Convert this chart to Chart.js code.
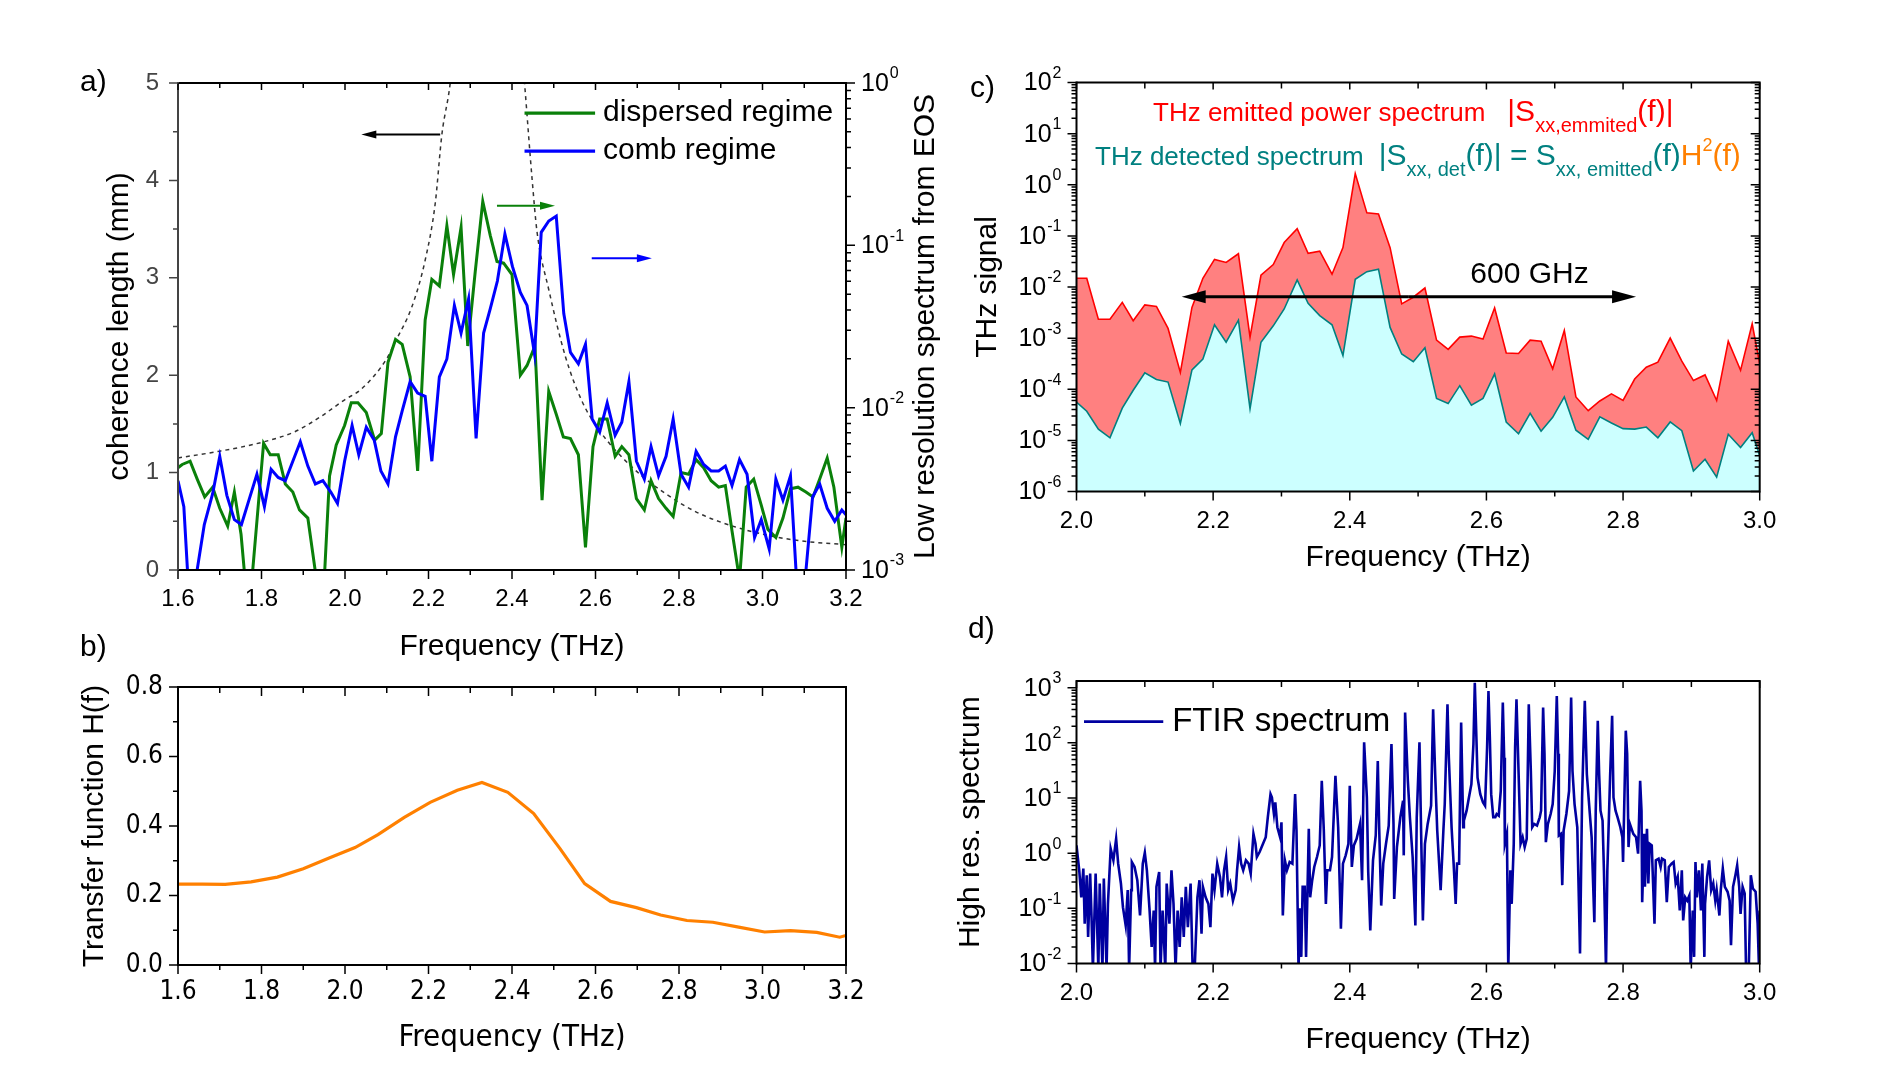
<!DOCTYPE html>
<html>
<head>
<meta charset="utf-8">
<title>THz spectra</title>
<script src="https://cdn.jsdelivr.net/npm/chart.js@4.4.0/dist/chart.umd.min.js"></script>
<style>
  body { margin: 0; background: #fff; }
  #wrap { position: relative; width: 1903px; height: 1065px; }
  canvas { position: absolute; left: 0; top: 0; }
</style>
</head>
<body>
<div id="wrap">
  <canvas id="panelA" width="1903" height="1065"></canvas>
  <canvas id="panelB" width="1903" height="1065"></canvas>
  <canvas id="panelC" width="1903" height="1065"></canvas>
  <canvas id="panelD" width="1903" height="1065"></canvas>
</div>
<script>
// ---- a) low resolution EOS spectra, right log axis (stored as log10 of value)
const dispFreq = [1.600,1.610,1.629,1.646,1.664,1.683,1.700,1.719,1.735,1.751,
  1.769,1.805,1.821,1.840,1.857,1.875,1.891,1.911,1.935,1.948,
  1.963,1.979,1.999,2.015,2.031,2.051,2.071,2.087,2.103,2.121,
  2.137,2.156,2.174,2.192,2.208,2.226,2.244,2.260,2.278,2.294,
  2.312,2.330,2.348,2.364,2.380,2.400,2.420,2.436,2.455,2.472,
  2.488,2.506,2.523,2.540,2.559,2.576,2.594,2.610,2.628,2.647,
  2.663,2.680,2.698,2.717,2.733,2.751,2.769,2.786,2.805,2.823,
  2.841,2.859,2.877,2.895,2.911,2.927,2.945,2.961,2.979,2.997,
  3.013,3.032,3.049,3.067,3.085,3.104,3.121,3.137,3.155,3.171,
  3.190,3.200];
const dispLog = [-2.37,-2.35,-2.33,-2.44,-2.55,-2.49,-2.62,-2.73,-2.52,-2.78,
  -3.30,-2.22,-2.29,-2.29,-2.47,-2.52,-2.63,-2.68,-3.12,-3.18,
  -2.42,-2.23,-2.11,-1.97,-1.97,-2.03,-2.20,-2.16,-1.72,-1.58,
  -1.61,-1.81,-2.39,-1.46,-1.21,-1.25,-0.88,-1.18,-0.89,-1.62,
  -1.16,-0.73,-0.94,-1.10,-1.11,-1.18,-1.80,-1.74,-1.62,-2.57,
  -1.90,-2.04,-2.18,-2.19,-2.29,-2.86,-2.24,-2.07,-2.07,-2.30,
  -2.24,-2.29,-2.56,-2.63,-2.45,-2.56,-2.62,-2.67,-2.40,-2.41,
  -2.32,-2.37,-2.45,-2.49,-2.48,-2.76,-3.06,-2.49,-2.44,-2.60,
  -2.75,-2.80,-2.68,-2.50,-2.49,-2.52,-2.55,-2.44,-2.31,-2.49,
  -2.86,-2.68];
const combFreq = [1.600,1.614,1.626,1.644,1.663,1.683,1.700,1.717,1.735,1.752,
  1.771,1.789,1.807,1.823,1.840,1.857,1.875,1.893,1.911,1.929,
  1.947,1.966,1.982,1.999,2.017,2.033,2.051,2.070,2.086,2.103,
  2.121,2.137,2.156,2.174,2.192,2.208,2.226,2.244,2.262,2.278,
  2.296,2.314,2.332,2.348,2.365,2.383,2.401,2.420,2.436,2.454,
  2.470,2.488,2.506,2.524,2.540,2.559,2.576,2.592,2.610,2.628,
  2.647,2.663,2.680,2.698,2.717,2.733,2.751,2.769,2.786,2.805,
  2.823,2.841,2.859,2.877,2.895,2.911,2.927,2.945,2.963,2.981,
  2.997,3.016,3.032,3.049,3.067,3.085,3.101,3.120,3.137,3.155,
  3.173,3.190,3.200];
const combLog = [-2.45,-2.61,-3.15,-3.03,-2.72,-2.53,-2.30,-2.54,-2.69,-2.72,
  -2.56,-2.41,-2.61,-2.38,-2.43,-2.45,-2.33,-2.21,-2.36,-2.47,
  -2.45,-2.52,-2.59,-2.33,-2.11,-2.29,-2.12,-2.20,-2.39,-2.47,
  -2.18,-2.02,-1.84,-1.91,-1.93,-2.33,-1.81,-1.70,-1.37,-1.54,
  -1.33,-2.19,-1.54,-1.39,-1.22,-0.93,-1.13,-1.29,-1.37,-1.67,
  -0.92,-0.85,-0.82,-1.42,-1.66,-1.73,-1.61,-2.07,-2.15,-1.97,
  -2.17,-2.09,-1.84,-2.33,-2.44,-2.24,-2.42,-2.30,-2.07,-2.41,
  -2.49,-2.27,-2.35,-2.39,-2.39,-2.36,-2.48,-2.32,-2.41,-2.80,
  -2.69,-2.87,-2.44,-2.57,-2.42,-3.21,-3.09,-2.55,-2.47,-2.62,
  -2.70,-2.63,-2.66];
// ---- a) coherence length (mm), the two branches either side of the pole
const cohFreqLow = [1.60,1.70,1.80,1.88,1.94,2.00,2.04,2.10,2.12,2.16,2.192,2.216,2.232,2.252,2.265];
const cohLow = [1.15,1.22,1.31,1.42,1.57,1.75,1.86,2.17,2.34,2.70,3.18,3.76,4.47,5.0,5.6];
const cohFreqHigh = [2.418,2.43,2.448,2.46,2.488,2.528,2.568,2.608,2.689,2.769,2.849,2.929,3.009,3.089,3.20];
const cohHigh = [5.6,5.0,4.02,3.47,2.88,2.19,1.73,1.44,1.05,0.78,0.58,0.45,0.36,0.30,0.26];

// ---- b) transfer function H(f)
const hFreq = [1.600,1.658,1.713,1.775,1.838,1.900,1.962,2.024,2.079,2.142,2.204,2.269,2.328,2.390,
  2.452,2.515,2.574,2.636,2.698,2.756,2.819,2.881,2.943,3.005,3.067,3.130,3.185,3.200];
const hVals = [0.233,0.233,0.232,0.239,0.253,0.277,0.308,0.338,0.375,0.425,0.468,0.503,0.525,0.497,
  0.436,0.335,0.234,0.183,0.165,0.144,0.128,0.123,0.109,0.095,0.099,0.094,0.080,0.085];

// ---- c) emitted and detected spectra (log10)
const specFreq = [2.000,2.015,2.032,2.049,2.067,2.083,2.100,2.117,2.134,2.152,
  2.169,2.185,2.202,2.219,2.237,2.254,2.270,2.288,2.304,2.323,
  2.339,2.356,2.374,2.390,2.408,2.425,2.442,2.459,2.476,2.493,
  2.510,2.527,2.544,2.561,2.578,2.595,2.612,2.629,2.647,2.664,
  2.680,2.697,2.714,2.731,2.749,2.766,2.783,2.800,2.817,2.834,
  2.851,2.869,2.886,2.903,2.920,2.937,2.954,2.972,2.989,3.000];
const emittedLog = [-1.83,-1.83,-2.63,-2.63,-2.30,-2.66,-2.35,-2.38,-2.81,-3.67,
  -2.40,-1.83,-1.46,-1.52,-1.35,-2.98,-1.77,-1.56,-1.13,-0.86,
  -1.34,-1.30,-1.75,-1.23,0.22,-0.55,-0.57,-1.23,-2.33,-2.20,
  -2.02,-3.04,-3.22,-2.98,-2.96,-3.02,-2.41,-3.29,-3.30,-3.04,
  -3.06,-3.60,-2.85,-4.15,-4.42,-4.23,-4.09,-4.22,-3.80,-3.57,
  -3.47,-3.00,-3.45,-3.83,-3.72,-4.22,-3.06,-3.63,-2.72,-3.50];
const detectedLog = [-4.25,-4.43,-4.78,-4.95,-4.37,-4.02,-3.68,-3.81,-3.86,-4.67,
  -3.62,-3.41,-2.74,-3.08,-2.65,-4.38,-3.08,-2.76,-2.43,-1.86,
  -2.32,-2.56,-2.74,-3.34,-1.85,-1.70,-1.65,-2.79,-3.31,-3.46,
  -3.19,-4.18,-4.28,-3.93,-4.31,-4.18,-3.70,-4.64,-4.87,-4.47,
  -4.82,-4.55,-4.15,-4.80,-4.98,-4.54,-4.66,-4.77,-4.78,-4.74,
  -4.95,-4.64,-4.81,-5.60,-5.37,-5.72,-4.88,-5.14,-4.85,-5.30];

// ---- d) high resolution FTIR spectrum (log10)
const ftirFreq = [2.000,2.004,2.007,2.010,2.012,2.015,2.017,2.020,2.022,2.024,
  2.028,2.032,2.034,2.038,2.040,2.044,2.046,2.050,2.054,2.058,
  2.061,2.065,2.068,2.072,2.075,2.077,2.080,2.081,2.085,2.089,
  2.093,2.097,2.100,2.103,2.107,2.110,2.113,2.115,2.117,2.121,
  2.123,2.126,2.130,2.132,2.136,2.139,2.142,2.145,2.148,2.151,
  2.154,2.157,2.160,2.163,2.167,2.170,2.173,2.177,2.180,2.183,
  2.185,2.189,2.193,2.196,2.199,2.202,2.206,2.210,2.213,2.216,
  2.219,2.222,2.225,2.229,2.233,2.235,2.238,2.241,2.244,2.248,
  2.252,2.255,2.259,2.262,2.264,2.268,2.273,2.277,2.280,2.284,
  2.286,2.289,2.291,2.294,2.298,2.300,2.302,2.305,2.308,2.312,
  2.316,2.320,2.322,2.325,2.327,2.329,2.331,2.334,2.336,2.340,
  2.342,2.345,2.348,2.352,2.356,2.359,2.362,2.365,2.367,2.371,
  2.374,2.379,2.383,2.387,2.390,2.394,2.398,2.400,2.403,2.406,
  2.410,2.415,2.418,2.421,2.425,2.427,2.430,2.434,2.438,2.441,
  2.443,2.446,2.449,2.453,2.457,2.461,2.464,2.465,2.469,2.474,
  2.478,2.479,2.481,2.485,2.488,2.492,2.496,2.498,2.502,2.505,
  2.507,2.510,2.514,2.519,2.522,2.525,2.528,2.533,2.537,2.539,
  2.543,2.545,2.549,2.552,2.555,2.557,2.560,2.563,2.566,2.567,
  2.571,2.574,2.578,2.581,2.583,2.587,2.591,2.595,2.598,2.601,
  2.603,2.605,2.607,2.610,2.613,2.615,2.618,2.621,2.624,2.626,
  2.627,2.630,2.632,2.635,2.637,2.640,2.642,2.644,2.647,2.650,
  2.653,2.656,2.659,2.662,2.665,2.667,2.670,2.674,2.678,2.680,
  2.683,2.685,2.687,2.690,2.694,2.697,2.700,2.703,2.705,2.706,
  2.709,2.711,2.713,2.717,2.721,2.724,2.726,2.729,2.733,2.737,
  2.740,2.744,2.747,2.751,2.754,2.758,2.760,2.763,2.765,2.767,
  2.770,2.772,2.775,2.777,2.781,2.784,2.786,2.789,2.792,2.796,
  2.799,2.800,2.804,2.806,2.808,2.810,2.815,2.819,2.822,2.825,
  2.827,2.828,2.831,2.832,2.835,2.837,2.839,2.842,2.846,2.848,
  2.852,2.855,2.857,2.861,2.864,2.867,2.871,2.874,2.877,2.880,
  2.883,2.886,2.888,2.891,2.894,2.897,2.899,2.902,2.904,2.906,
  2.908,2.911,2.914,2.916,2.919,2.920,2.923,2.926,2.929,2.932,
  2.935,2.937,2.941,2.943,2.946,2.949,2.953,2.956,2.958,2.961,
  2.964,2.967,2.970,2.972,2.975,2.978,2.980,2.984,2.987,2.990,
  2.994,2.997,2.999,3.000];
const ftirLog = [0.14,-0.31,-0.80,-0.28,-1.28,-0.40,-1.52,-0.37,-1.16,-2.1,
  -0.37,-2.1,-0.55,-2.1,-0.46,-2.1,-0.92,0.08,-0.13,0.26,
  -0.19,-0.55,-0.98,-1.31,-0.67,-2.1,-0.67,-0.16,-0.25,-0.49,
  -1.13,-0.19,0.01,-0.31,-1.04,-1.70,-1.04,-2.1,-0.61,-0.34,
  -2.1,-1.04,-2.1,-0.55,-1.28,-0.31,-0.92,-2.1,-1.04,-1.70,
  -0.80,-1.52,-0.61,-1.34,-0.55,-2.1,-2.1,-0.80,-0.49,-1.46,
  -0.61,-0.80,-0.92,-1.34,-0.37,-0.67,-0.19,-0.43,-0.80,-0.31,
  -0.07,-0.67,-0.55,-0.86,-0.67,-0.31,0.11,-0.19,-0.31,-0.13,
  -0.19,-0.37,0.35,0.17,-0.07,0.02,0.17,0.29,0.65,1.07,
  1.01,0.71,0.92,0.47,0.29,0.56,-1.13,-0.13,-0.31,-0.16,
  -0.19,1.07,0.41,-2.1,-1.0,-1.88,-0.61,-0.61,-1.88,0.44,
  -0.80,-0.49,-0.25,-0.07,0.14,1.31,0.41,-0.92,-0.31,-0.31,
  -0.07,1.40,0.47,-1.37,-0.19,-0.04,0.17,1.22,-0.25,0.14,
  0.26,0.53,-0.49,2.01,1.01,-0.34,-1.40,-0.13,0.32,1.67,
  0.47,-0.95,-0.19,0.17,0.50,1.98,0.53,-0.83,0.11,0.65,
  0.95,-0.04,2.55,1.31,0.65,-0.07,-1.31,0.65,2.01,-0.01,
  -1.22,0.17,0.53,0.86,2.61,1.43,0.41,-0.67,0.41,0.89,
  2.70,1.73,0.47,-0.19,-0.92,-0.19,-0.19,2.37,0.47,0.59,
  0.77,0.98,1.25,1.98,3.09,1.37,1.07,0.92,0.86,1.92,
  2.94,2.10,1.07,0.65,0.65,0.71,0.68,1.13,2.73,1.73,
  0.17,0.35,-2.1,-0.31,-0.92,0.17,1.92,2.79,1.49,0.17,
  0.29,0.11,0.26,2.70,1.49,0.47,0.53,0.50,0.65,0.77,
  2.64,1.80,0.20,0.53,0.71,0.89,1.49,2.85,1.80,0.32,
  0.35,-0.58,0.41,0.71,1.13,2.82,1.49,0.89,0.47,-1.82,
  1.01,2.76,1.43,0.77,0.29,-1.25,0.77,2.40,1.43,0.77,
  0.59,-0.31,-2.1,-0.31,1.37,2.49,1.01,0.77,0.65,0.47,
  0.29,-0.16,2.22,1.80,0.11,0.53,0.35,0.29,-0.01,1.31,
  0.77,-0.89,0.35,-0.61,0.44,-0.55,0.17,0.14,-1.28,-0.13,
  -0.10,-0.25,-0.10,-0.13,-0.89,-0.25,-0.19,-0.16,-0.55,-0.43,
  -1.04,-0.31,-1.22,-0.80,-0.86,-0.77,-2.1,-1.04,-1.88,-0.16,
  -0.80,-0.31,-1.04,-0.19,-1.88,-0.92,-0.43,-0.13,-0.67,-0.55,
  -0.86,-0.67,-1.13,-0.67,-0.28,-0.61,-0.70,-0.86,-1.67,-0.61,
  -0.43,-0.22,-0.61,-1.10,-0.61,-0.73,-2.1,-2.1,-0.40,-0.64,
  -0.70,-1.28,-2.1,-1.04];

// ---- tick labels
const ticksAx = [1.6, 1.8, 2.0, 2.2, 2.4, 2.6, 2.8, 3.0, 3.2];
const minorAx = [1.7, 1.9, 2.1, 2.3, 2.5, 2.7, 2.9, 3.1];
const ticksAy = [0, 1, 2, 3, 4, 5];
const minorAy = [0.5, 1.5, 2.5, 3.5, 4.5];
const ticksAy2 = [1e-3, 1e-2, 1e-1, 1];
const ticksBy = [0, 0.2, 0.4, 0.6, 0.8];
const minorBy = [0.1, 0.3, 0.5, 0.7];
const ticksCDx = [2.0, 2.2, 2.4, 2.6, 2.8, 3.0];
const minorCDx = [2.1, 2.3, 2.5, 2.7, 2.9];
const ticksCy = [1e-6, 1e-5, 1e-4, 1e-3, 1e-2, 1e-1, 1, 10, 100];
const ticksDy = [1e-2, 1e-1, 1, 10, 100, 1000];

const FONT = '"Liberation Sans", Arial, Helvetica, sans-serif';
const NARROW = '"Liberation Sans Narrow", "Arial Narrow", "DejaVu Sans Condensed", sans-serif';
const GREEN = '#0a800a', BLUE = '#0000ff', RED = '#ff0000', TEAL = '#008080', ORANGE = '#ff8000', NAVY = '#0000a0';

Chart.defaults.font.family = FONT;
Chart.defaults.color = '#000';

const pts = (xs, ys) => xs.map((x, i) => ({ x: x, y: ys[i] }));
const fromLog = arr => arr.map(v => Math.pow(10, v));
function logMinors(lo, hi) {
  const out = [];
  for (let e = lo; e < hi; e++) for (let k = 2; k <= 9; k++) out.push(k * Math.pow(10, e));
  return out;
}

// ---------- drawing helpers ----------
function tickMarks(chart, id, side, dir, values, len, color) {
  const s = chart.scales[id], ca = chart.chartArea, ctx = chart.ctx;
  ctx.save();
  ctx.strokeStyle = color || '#000';
  ctx.lineWidth = 1.5;
  ctx.beginPath();
  values.forEach(v => {
    const p = s.getPixelForValue(v);
    if (side === 'bottom' || side === 'top') {
      if (p < ca.left - 0.5 || p > ca.right + 0.5) return;
      const y0 = side === 'bottom' ? ca.bottom : ca.top;
      const sg = ((side === 'bottom') === (dir === 'out')) ? 1 : -1;
      ctx.moveTo(p, y0); ctx.lineTo(p, y0 + sg * len);
    } else {
      if (p < ca.top - 0.5 || p > ca.bottom + 0.5) return;
      const x0 = side === 'left' ? ca.left : ca.right;
      const sg = ((side === 'right') === (dir === 'out')) ? 1 : -1;
      ctx.moveTo(x0, p); ctx.lineTo(x0 + sg * len, p);
    }
  });
  ctx.stroke();
  ctx.restore();
}

function frame(chart, leftColor) {
  const ca = chart.chartArea, ctx = chart.ctx;
  ctx.save();
  ctx.lineWidth = 2;
  ctx.strokeStyle = '#000';
  ctx.beginPath();
  ctx.moveTo(ca.left, ca.top); ctx.lineTo(ca.right, ca.top);
  ctx.lineTo(ca.right, ca.bottom); ctx.lineTo(ca.left, ca.bottom);
  ctx.stroke();
  ctx.strokeStyle = leftColor || '#000';
  ctx.beginPath();
  ctx.moveTo(ca.left, ca.top - 1); ctx.lineTo(ca.left, ca.bottom + 1);
  ctx.stroke();
  ctx.restore();
}

function logLabels(chart, id, side, values, gap) {
  const s = chart.scales[id], ca = chart.chartArea, ctx = chart.ctx;
  ctx.save();
  ctx.fillStyle = '#000';
  ctx.textBaseline = 'middle';
  ctx.textAlign = 'left';
  values.forEach(v => {
    const y = s.getPixelForValue(v);
    const e = String(Math.round(Math.log10(v)));
    ctx.font = '25px ' + FONT;
    const wb = ctx.measureText('10').width;
    ctx.font = '16px ' + FONT;
    const we = ctx.measureText(e).width;
    const x = side === 'left' ? ca.left - gap - wb - we - 1 : ca.right + gap;
    ctx.font = '25px ' + FONT;
    ctx.fillText('10', x, y + 1);
    ctx.font = '16px ' + FONT;
    ctx.fillText(e, x + wb + 1, y - 9);
  });
  ctx.restore();
}

function arrowPx(ctx, x1, y1, x2, y2, head, half, width, color) {
  const ang = Math.atan2(y2 - y1, x2 - x1);
  ctx.save();
  ctx.strokeStyle = color; ctx.fillStyle = color; ctx.lineWidth = width;
  ctx.beginPath();
  ctx.moveTo(x1, y1);
  ctx.lineTo(x2 - Math.cos(ang) * head * 0.9, y2 - Math.sin(ang) * head * 0.9);
  ctx.stroke();
  ctx.translate(x2, y2); ctx.rotate(ang);
  ctx.beginPath();
  ctx.moveTo(0, 0); ctx.lineTo(-head, -half); ctx.lineTo(-head, half); ctx.closePath();
  ctx.fill();
  ctx.restore();
}

function arrowData(chart, xs, ys, x1, y1, x2, y2, head, half, width, color) {
  const X = chart.scales[xs], Y = chart.scales[ys];
  arrowPx(chart.ctx, X.getPixelForValue(x1), Y.getPixelForValue(y1),
    X.getPixelForValue(x2), Y.getPixelForValue(y2), head, half, width, color);
}

function text(ctx, str, x, y, font, color, align, base) {
  ctx.save();
  ctx.font = font; ctx.fillStyle = color || '#000';
  ctx.textAlign = align || 'left'; ctx.textBaseline = base || 'alphabetic';
  ctx.fillText(str, x, y);
  ctx.restore();
}

function runs(ctx, x, y, parts) {
  ctx.save();
  ctx.textBaseline = 'alphabetic';
  ctx.textAlign = 'left';
  parts.forEach(p => {
    if (p.gap) { x += p.gap; return; }
    ctx.font = p.size + 'px ' + FONT;
    ctx.fillStyle = p.color;
    ctx.fillText(p.t, x, y + (p.dy || 0));
    x += ctx.measureText(p.t).width;
  });
  ctx.restore();
}

function legendEntry(chart, xs, ys, x1, x2, y, tx, label, color, width, size) {
  const X = chart.scales[xs], Y = chart.scales[ys], ctx = chart.ctx;
  const py = Y.getPixelForValue(y);
  ctx.save();
  ctx.strokeStyle = color; ctx.lineWidth = width;
  ctx.beginPath();
  ctx.moveTo(X.getPixelForValue(x1), py); ctx.lineTo(X.getPixelForValue(x2), py);
  ctx.stroke();
  ctx.restore();
  text(ctx, label, X.getPixelForValue(tx), py, (size || 30) + 'px ' + FONT, '#000', 'left', 'middle');
}

// ---------- per panel decorations ----------
const decor = {
  panelA(chart) {
    const ctx = chart.ctx;
    frame(chart, '#444');
    tickMarks(chart, 'x', 'bottom', 'out', ticksAx, 9);
    tickMarks(chart, 'x', 'bottom', 'out', minorAx, 5);
    tickMarks(chart, 'x', 'top', 'in', ticksAx, 7);
    tickMarks(chart, 'x', 'top', 'in', minorAx, 5);
    tickMarks(chart, 'y', 'left', 'out', ticksAy, 9, '#444');
    tickMarks(chart, 'y', 'left', 'out', minorAy, 5, '#444');
    tickMarks(chart, 'y2', 'right', 'out', ticksAy2, 9);
    tickMarks(chart, 'y2', 'right', 'out', logMinors(-3, 0), 5);
    logLabels(chart, 'y2', 'right', ticksAy2, 15);
    // right axis title, reading bottom to top
    ctx.save();
    ctx.translate(926, (chart.chartArea.top + chart.chartArea.bottom) / 2);
    ctx.rotate(-Math.PI / 2);
    text(ctx, 'Low resolution spectrum from EOS', 0, 0, '30px ' + FONT, '#000', 'center', 'middle');
    ctx.restore();
    // axis assignment arrows
    arrowData(chart, 'x', 'y', 2.228, 4.47, 2.039, 4.47, 15, 4, 2, '#000');
    arrowData(chart, 'x', 'y', 2.364, 3.74, 2.503, 3.74, 15, 4, 2, GREEN);
    arrowData(chart, 'x', 'y', 2.591, 3.20, 2.735, 3.20, 15, 4, 2, BLUE);
    // legend
    legendEntry(chart, 'x', 'y', 2.43, 2.599, 4.69, 2.618, chart.data.datasets[1].label, GREEN, 3.2);
    legendEntry(chart, 'x', 'y', 2.43, 2.599, 4.30, 2.618, chart.data.datasets[0].label, BLUE, 3.2);
    text(ctx, 'a)', 80, 91, '30px ' + FONT, '#000');
  },
  panelB(chart) {
    frame(chart);
    tickMarks(chart, 'x', 'bottom', 'out', ticksAx, 9);
    tickMarks(chart, 'x', 'bottom', 'out', minorAx, 5);
    tickMarks(chart, 'x', 'top', 'in', ticksAx, 9);
    tickMarks(chart, 'x', 'top', 'in', minorAx, 6);
    tickMarks(chart, 'y', 'left', 'out', ticksBy, 9);
    tickMarks(chart, 'y', 'left', 'out', minorBy, 5);
    text(chart.ctx, 'b)', 80, 656, '30px ' + FONT, '#000');
  },
  panelC(chart) {
    const ctx = chart.ctx;
    frame(chart);
    tickMarks(chart, 'x', 'bottom', 'out', ticksCDx, 9);
    tickMarks(chart, 'x', 'bottom', 'out', minorCDx, 5);
    tickMarks(chart, 'x', 'top', 'in', ticksCDx, 7);
    tickMarks(chart, 'x', 'top', 'in', minorCDx, 6);
    tickMarks(chart, 'y', 'left', 'out', ticksCy, 9);
    tickMarks(chart, 'y', 'left', 'out', logMinors(-6, 2), 5);
    tickMarks(chart, 'y', 'right', 'in', ticksCy, 9);
    tickMarks(chart, 'y', 'right', 'in', logMinors(-6, 2), 5);
    logLabels(chart, 'y', 'left', ticksCy, 15);
    runs(ctx, 1153, 121, [
      { t: 'THz emitted power spectrum', size: 26, color: RED },
      { gap: 22 },
      { t: '|S', size: 30, color: RED },
      { t: 'xx,emmited', size: 20, color: RED, dy: 11 },
      { t: '(f)|', size: 30, color: RED }
    ]);
    runs(ctx, 1095, 165, [
      { t: 'THz detected spectrum', size: 26, color: TEAL },
      { gap: 15 },
      { t: '|S', size: 30, color: TEAL },
      { t: 'xx, det', size: 20, color: TEAL, dy: 11 },
      { t: '(f)| = S', size: 30, color: TEAL },
      { t: 'xx, emitted', size: 20, color: TEAL, dy: 11 },
      { t: '(f)', size: 30, color: TEAL },
      { t: 'H', size: 30, color: ORANGE },
      { t: '2', size: 18, color: ORANGE, dy: -14 },
      { t: '(f)', size: 30, color: ORANGE }
    ]);
    // 600 GHz span
    const X = chart.scales.x, Y = chart.scales.y;
    const ya = Y.getPixelForValue(Math.pow(10, -2.19));
    const xl = X.getPixelForValue(2.154), xr = X.getPixelForValue(2.819);
    arrowPx(ctx, (xl + xr) / 2, ya, xl, ya, 24, 6.5, 3, '#000');
    arrowPx(ctx, (xl + xr) / 2, ya, xr, ya, 24, 6.5, 3, '#000');
    text(ctx, '600 GHz', X.getPixelForValue(2.663), ya - 14, '30px ' + FONT, '#000', 'center');
    text(ctx, 'c)', 970, 97, '30px ' + FONT, '#000');
  },
  panelD(chart) {
    frame(chart);
    tickMarks(chart, 'x', 'bottom', 'out', ticksCDx, 9);
    tickMarks(chart, 'x', 'bottom', 'out', minorCDx, 5);
    tickMarks(chart, 'x', 'top', 'in', ticksCDx, 7);
    tickMarks(chart, 'x', 'top', 'in', minorCDx, 6);
    tickMarks(chart, 'y', 'left', 'out', ticksDy, 9);
    tickMarks(chart, 'y', 'left', 'out', logMinors(-2, 4), 5);
    logLabels(chart, 'y', 'left', ticksDy, 15);
    legendEntry(chart, 'x', 'y', 2.011, 2.127, Math.pow(10, 2.385), 2.140, chart.data.datasets[0].label, NAVY, 2.8, 33);
    text(chart.ctx, 'd)', 968, 638, '30px ' + FONT, '#000');
  }
};

const decorPlugin = {
  id: 'decor',
  afterDraw(chart) { const f = decor[chart.canvas.id]; if (f) f(chart); }
};

// ---------- scale helpers ----------
const hidden = { grid: { display: false, drawTicks: false }, border: { display: false } };
function xScale(min, max, ticksArr, height, pad, titlePad, font, titleSize) {
  return Object.assign({}, hidden, {
    type: 'linear', position: 'bottom', min: min, max: max,
    afterBuildTicks: s => { s.ticks = ticksArr.map(v => ({ value: v })); },
    afterFit: s => { s.height = height; },
    ticks: { autoSkip: false, maxRotation: 0, padding: pad, color: '#000',
      font: { size: font.size, family: font.family }, callback: v => Number(v).toFixed(1) },
    title: { display: true, text: 'Frequency (THz)', color: '#000',
      font: { size: titleSize, family: font.family }, padding: { top: 0, bottom: titlePad } }
  });
}

const baseOpts = {
  responsive: false, animation: false, devicePixelRatio: 1,
  elements: { point: { radius: 0 }, line: { tension: 0 } },
  plugins: { legend: { display: false }, tooltip: { enabled: false } }
};
function opts(extra) { return Object.assign({}, baseOpts, extra); }

// ---------- a) ----------
new Chart(document.getElementById('panelA'), {
  type: 'line',
  data: {
    datasets: [
      { label: 'comb regime', data: pts(combFreq, fromLog(combLog)), yAxisID: 'y2',
        borderColor: BLUE, borderWidth: 3 },
      { label: 'dispersed regime', data: pts(dispFreq, fromLog(dispLog)), yAxisID: 'y2',
        borderColor: GREEN, borderWidth: 3 },
      { label: 'coherence length', data: pts(cohFreqLow, cohLow), yAxisID: 'y',
        borderColor: '#333', borderWidth: 1.5, borderDash: [4, 4], cubicInterpolationMode: 'monotone' },
      { label: 'coherence length', data: pts(cohFreqHigh, cohHigh), yAxisID: 'y',
        borderColor: '#333', borderWidth: 1.5, borderDash: [4, 4], cubicInterpolationMode: 'monotone' }
    ]
  },
  options: opts({
    layout: { padding: { left: 0, top: 83, right: 947, bottom: 395 } },
    scales: {
      x: xScale(1.6, 3.2, ticksAx, 100, 15, 5, { size: 24, family: FONT }, 30),
      y: Object.assign({}, hidden, {
        type: 'linear', position: 'left', min: 0, max: 5,
        afterBuildTicks: s => { s.ticks = ticksAy.map(v => ({ value: v })); },
        afterFit: s => { s.width = 178; },
        ticks: { padding: 19, color: '#444', font: { size: 24 } },
        title: { display: true, text: 'coherence length (mm)', color: '#000',
          font: { size: 30 }, padding: { top: 102, bottom: 0 } }
      }),
      y2: Object.assign({}, hidden, {
        type: 'logarithmic', position: 'right', min: 1e-3, max: 1,
        afterFit: s => { s.width = 110; },
        ticks: { display: false }
      })
    }
  }),
  plugins: [decorPlugin]
});

// ---------- b) ----------
new Chart(document.getElementById('panelB'), {
  type: 'line',
  data: {
    datasets: [
      { label: 'H(f)', data: pts(hFreq, hVals), borderColor: ORANGE, borderWidth: 3.2 }
    ]
  },
  options: opts({
    layout: { padding: { left: 0, top: 687, right: 1057, bottom: 5 } },
    scales: {
      x: xScale(1.6, 3.2, ticksAx, 95, 12, 3, { size: 26, family: NARROW }, 31),
      y: Object.assign({}, hidden, {
        type: 'linear', position: 'left', min: 0, max: 0.8,
        afterBuildTicks: s => { s.ticks = ticksBy.map(v => ({ value: v })); },
        afterFit: s => { s.width = 178; },
        ticks: { padding: 15, color: '#000', font: { size: 26, family: NARROW },
          callback: v => Number(v).toFixed(1) },
        title: { display: true, text: 'Transfer function H(f)', color: '#000',
          font: { size: 30 }, padding: { top: 77, bottom: 0 } }
      })
    }
  }),
  plugins: [decorPlugin]
});

// ---------- c) ----------
new Chart(document.getElementById('panelC'), {
  type: 'line',
  data: {
    datasets: [
      { label: 'THz emitted power spectrum', data: pts(specFreq, fromLog(emittedLog)),
        borderColor: RED, borderWidth: 1.6, fill: '+1', backgroundColor: '#ff8080' },
      { label: 'THz detected spectrum', data: pts(specFreq, fromLog(detectedLog)),
        borderColor: TEAL, borderWidth: 1.6, fill: 'start', backgroundColor: '#ccffff' }
    ]
  },
  options: opts({
    layout: { padding: { left: 900, top: 82.5, right: 143.3, bottom: 473.5 } },
    plugins: { legend: { display: false }, tooltip: { enabled: false }, filler: { drawTime: 'beforeDatasetsDraw' } },
    scales: {
      x: xScale(2.0, 3.0, ticksCDx, 100, 15, 15.5, { size: 24, family: FONT }, 30),
      y: Object.assign({}, hidden, {
        type: 'logarithmic', position: 'left', min: 1e-6, max: 100,
        afterFit: s => { s.width = 176.5; },
        ticks: { display: false },
        title: { display: true, text: 'THz signal', color: '#000',
          font: { size: 30 }, padding: { top: 70, bottom: 0 } }
      })
    }
  }),
  plugins: [decorPlugin]
});

// ---------- d) ----------
new Chart(document.getElementById('panelD'), {
  type: 'line',
  data: {
    datasets: [
      { label: 'FTIR spectrum', data: pts(ftirFreq, fromLog(ftirLog)),
        borderColor: NAVY, borderWidth: 2.6 }
    ]
  },
  options: opts({
    layout: { padding: { left: 900, top: 681, right: 143.3, bottom: 6.5 } },
    scales: {
      x: xScale(2.0, 3.0, ticksCDx, 95, 15, 0.5, { size: 24, family: FONT }, 30),
      y: Object.assign({}, hidden, {
        type: 'logarithmic', position: 'left', min: 1e-2, max: 1320,
        afterFit: s => { s.width = 176.5; },
        ticks: { display: false },
        title: { display: true, text: 'High res. spectrum', color: '#000',
          font: { size: 30 }, padding: { top: 53, bottom: 0 } }
      })
    }
  }),
  plugins: [decorPlugin]
});
</script>
</body>
</html>
